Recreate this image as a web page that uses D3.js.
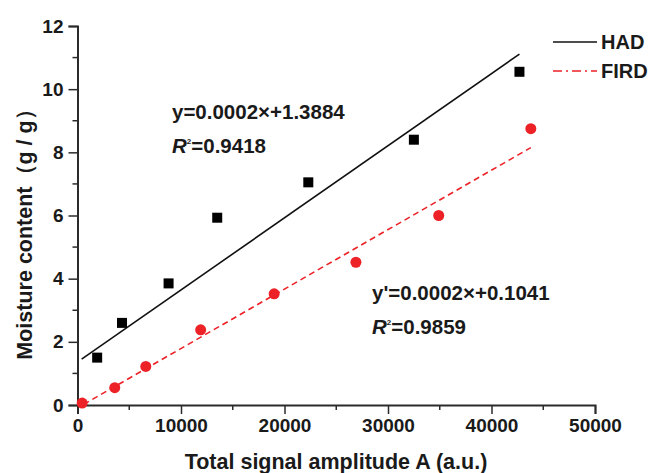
<!DOCTYPE html>
<html>
<head>
<meta charset="utf-8">
<script src="https://cdn.jsdelivr.net/npm/d3@7"></script>
<style>
body{margin:0;background:#fff;}
text{font-family:"Liberation Sans",Arial,sans-serif;font-weight:bold;fill:#1a1a1a;}
</style>
</head>
<body>
<script>
// measured points
var hadX = [1900, 4300, 8800, 13500, 22300, 32500, 42700];
var hadY = [1.5, 2.6, 3.85, 5.93, 7.05, 8.4, 10.55];
var firdX = [450, 3600, 6600, 11900, 19000, 26900, 34900, 43800];
var firdY = [0.06, 0.55, 1.22, 2.38, 3.52, 4.52, 6.0, 8.75];
// fitted lines (end points as drawn)
var hadFit = [[400, 1.45], [42700, 11.11]];
var firdFit = [[600, 0.02], [43800, 8.15]];
var xTicks = [0, 10000, 20000, 30000, 40000, 50000];
var yTicks = [0, 2, 4, 6, 8, 10, 12];

var W = 654, H = 473;
var svg = d3.select("body").append("svg").attr("width", W).attr("height", H);

var x = d3.scaleLinear().domain([0, 50000]).range([77.5, 595]);
var y = d3.scaleLinear().domain([0, 12]).range([405, 26]);
var red = "#ec2227";
var axisColor = "#2b2b2b";

// minor ticks
var gMinor = svg.append("g");
gMinor.selectAll(".mx").data(d3.range(5000, 50000, 10000)).enter().append("line")
	.attr("x1", function(d){ return x(d); }).attr("x2", function(d){ return x(d); })
	.attr("y1", 405).attr("y2", 410)
	.style("stroke", axisColor).style("stroke-width", 1.5);
gMinor.selectAll(".my").data(d3.range(1, 12, 2)).enter().append("line")
	.attr("y1", function(d){ return y(d); }).attr("y2", function(d){ return y(d); })
	.attr("x1", 77.5).attr("x2", 72.5)
	.style("stroke", axisColor).style("stroke-width", 1.5);

var xAxis = svg.append("g").attr("transform", "translate(0,405)")
	.call(d3.axisBottom(x).tickValues(xTicks).tickSize(9).tickPadding(5).tickFormat(d3.format("d")));
var yAxis = svg.append("g").attr("transform", "translate(77.5,0)")
	.call(d3.axisLeft(y).tickValues(yTicks).tickSize(9).tickPadding(5));
[xAxis, yAxis].forEach(function(g){
	g.select(".domain").style("stroke", axisColor).style("stroke-width", 2);
	g.selectAll(".tick line").style("stroke", axisColor).style("stroke-width", 1.5);
	g.selectAll(".tick text").style("font-size", "19px").style("font-family", "Liberation Sans, Arial, sans-serif")
		.style("font-weight", "bold").style("fill", "#1a1a1a");
});

// axis titles
svg.append("text").attr("x", 336).attr("y", 469).attr("text-anchor", "middle")
	.style("font-size", "21.5px").text("Total signal amplitude A (a.u.)");
svg.append("text").attr("transform", "translate(32,229) rotate(-90)").attr("text-anchor", "middle")
	.style("font-size", "21.5px").text("Moisture content（g / g）");

// fit lines
var line = d3.line().x(function(d){ return x(d[0]); }).y(function(d){ return y(d[1]); });
svg.append("path").attr("d", line(hadFit)).style("fill", "none").style("stroke", "#111").style("stroke-width", 1.6);
svg.append("path").attr("d", line(firdFit)).style("fill", "none").style("stroke", red)
	.style("stroke-width", 1.6).style("stroke-dasharray", "6,4");

// markers
svg.selectAll(".sq").data(hadX).enter().append("rect")
	.attr("x", function(d){ return x(d) - 5; })
	.attr("y", function(d, i){ return y(hadY[i]) - 5; })
	.attr("width", 10).attr("height", 10).style("fill", "#000");
svg.selectAll(".ci").data(firdX).enter().append("circle")
	.attr("cx", function(d){ return x(d); })
	.attr("cy", function(d, i){ return y(firdY[i]); })
	.attr("r", 5.5).style("fill", red);

// legend
svg.append("line").attr("x1", 553).attr("x2", 597).attr("y1", 42).attr("y2", 42)
	.style("stroke", "#111").style("stroke-width", 1.6);
svg.append("line").attr("x1", 553).attr("x2", 597).attr("y1", 71).attr("y2", 71)
	.style("stroke", red).style("stroke-width", 1.6).style("stroke-dasharray", "9,4,2,4");
svg.append("text").attr("x", 601).attr("y", 49).style("font-size", "20px").text("HAD");
svg.append("text").attr("x", 601).attr("y", 78).style("font-size", "20px").text("FIRD");

// equations
function eq(tx, ty, eqText, r2){
	svg.append("text").attr("x", tx).attr("y", ty).style("font-size", "20.5px").text(eqText);
	var t = svg.append("text").attr("x", tx).attr("y", ty + 34).style("font-size", "20.5px");
	t.append("tspan").style("font-style", "italic").text("R");
	t.append("tspan").attr("dy", -9).style("font-size", "8px").text("2");
	t.append("tspan").attr("dy", 9).text("=" + r2);
}
eq(172, 119, "y=0.0002×+1.3884", "0.9418");
eq(372, 300, "y'=0.0002×+0.1041", "0.9859");
</script>
</body>
</html>
